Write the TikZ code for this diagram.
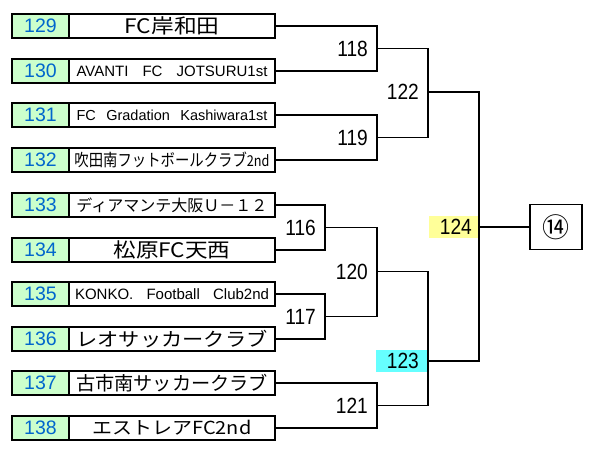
\documentclass[tikz,border=0pt]{standalone}
\usepackage{fontspec}
\setmainfont{Liberation Sans}
\newfontfamily\jpfont{Noto Sans CJK JP}
\newfontfamily\numfont[FakeStretch=0.87]{Liberation Sans}
\usepackage{graphicx}
\usetikzlibrary{positioning}
\definecolor{entrycolor}{RGB}{204, 255, 204}
\definecolor{entrytext}{RGB}{0, 102, 204}
\definecolor{finalcolor}{RGB}{255, 255, 153}
\definecolor{semicolor}{RGB}{102, 255, 255}
\newcommand{\fitname}[2]{\resizebox{#1}{\height}{#2}}
\newcommand{\spreadname}[2]{\makebox[#1][s]{#2}}

\begin{document}
\begin{tikzpicture}[x=1pt, y=-1pt,
    numbox/.style={draw, line width=1.5pt, fill=entrycolor, minimum width=57pt, minimum height=24pt, inner sep=0pt, outer sep=0pt, text=entrytext, font=\fontsize{19.5}{20}\selectfont},
    namebox/.style={draw, line width=1.5pt, fill=white, minimum width=206pt, minimum height=24pt, inner sep=0pt, outer sep=0pt},
    match/.style={anchor=east, inner xsep=9pt, inner ysep=0pt, font=\numfont\fontsize{22}{22}\selectfont},
    bracket/.style={line width=1.5pt}]
    \useasboundingbox (0,0) rectangle (600,448);

    % Entry boxes
    \node[numbox] (n129) at (40.5, 26) {129};
    \node[namebox, right=0pt of n129] (t129) {\jpfont\fontsize{20}{20}\selectfont\fitname{95pt}{FC岸和田}};
    \node[numbox] (n130) at (40.5, 71) {130};
    \node[namebox, right=0pt of n130] (t130) {\fontsize{15}{15}\selectfont\spreadname{191pt}{AVANTI FC JOTSURU1st}};
    \node[numbox] (n131) at (40.5, 115) {131};
    \node[namebox, right=0pt of n131] (t131) {\fontsize{14.5}{14.5}\selectfont\spreadname{191pt}{FC Gradation Kashiwara1st}};
    \node[numbox] (n132) at (40.5, 160) {132};
    \node[namebox, right=0pt of n132] (t132) {\jpfont\fontsize{17}{17}\selectfont\fitname{195pt}{吹田南フットボールクラブ{\fontsize{15}{15}\selectfont 2nd}}};
    \node[numbox] (n133) at (40.5, 205) {133};
    \node[namebox, right=0pt of n133] (t133) {\jpfont\fontsize{16}{16}\selectfont\fitname{191pt}{ディアマンテ大阪Ｕ－１２}};
    \node[numbox] (n134) at (40.5, 250) {134};
    \node[namebox, right=0pt of n134] (t134) {\jpfont\fontsize{20}{20}\selectfont\fitname{117pt}{松原FC天西}};
    \node[numbox] (n135) at (40.5, 294) {135};
    \node[namebox, right=0pt of n135] (t135) {\fontsize{15}{15}\selectfont\spreadname{194pt}{KONKO. Football Club2nd}};
    \node[numbox] (n136) at (40.5, 339) {136};
    \node[namebox, right=0pt of n136] (t136) {\jpfont\fontsize{19}{19}\selectfont\fitname{191pt}{レオサッカークラブ}};
    \node[numbox] (n137) at (40.5, 383) {137};
    \node[namebox, right=0pt of n137] (t137) {\jpfont\fontsize{19}{19}\selectfont\fitname{192pt}{古市南サッカークラブ}};
    \node[numbox] (n138) at (40.5, 428) {138};
    \node[namebox, right=0pt of n138] (t138) {\jpfont\fontsize{18}{18}\selectfont\fitname{159pt}{エストレアFC2nd}};

    % Match points
    \coordinate (c118) at (377, 48.5);
    \coordinate (c119) at (377, 137.5);
    \coordinate (c116) at (325, 227.5);
    \coordinate (c117) at (325, 316.5);
    \coordinate (c121) at (377, 405.5);
    \coordinate (c120) at (377, 271.5);
    \coordinate (c122) at (428, 92);
    \coordinate (c123) at (428, 361);
    \coordinate (c124) at (479, 227);

    % Match numbers
    \node[match] (m118) at (c118) {118};
    \node[match] (m119) at (c119) {119};
    \node[match] (m116) at (c116) {116};
    \node[match] (m117) at (c117) {117};
    \node[match] (m120) at (c120) {120};
    \node[match] (m121) at (c121) {121};
    \node[match] (m122) at (c122) {122};
    \node[match, fill=semicolor, inner xsep=8pt, text width=35pt, align=right, minimum height=22pt] (m123) at ([xshift=-1pt]c123) {123};
    \node[match, fill=finalcolor, inner xsep=6pt, text width=37pt, align=right, minimum height=22pt] (m124) at ([xshift=-1pt]c124) {124};

    % Winner box
    \node[draw, line width=1.5pt, minimum width=52pt, minimum height=45pt] (w14) at (556, 227) {\jpfont\fontsize{27}{27}\selectfont ⑭};

    % Brackets
    \draw[bracket] (t129.east) -| (c118) |- (t130.east);
    \draw[bracket] (t131.east) -| (c119) |- (t132.east);
    \draw[bracket] (t133.east) -| (c116) |- (t134.east);
    \draw[bracket] (t135.east) -| (c117) |- (t136.east);
    \draw[bracket] (t137.east) -| (c121) |- (t138.east);
    \draw[bracket] (c116) -| (c120) |- (c117);
    \draw[bracket] (c118) -| (c122) |- (c119);
    \draw[bracket] (c120) -| (c123) |- (c121);
    \draw[bracket] (c122) -| (c124) |- (c123);
    \draw[bracket] (c124) -- (w14);
\end{tikzpicture}
\end{document}
